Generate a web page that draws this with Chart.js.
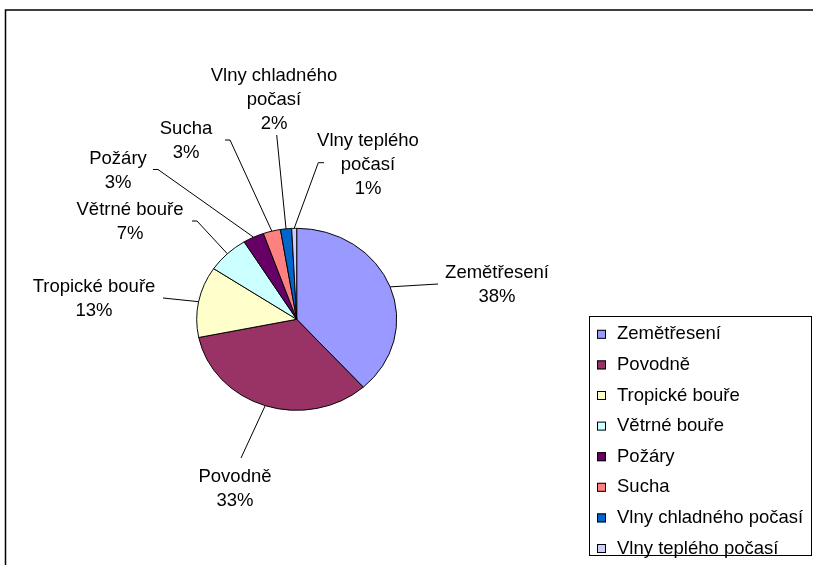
<!DOCTYPE html>
<html>
<head>
<meta charset="utf-8">
<script src="https://cdn.jsdelivr.net/npm/chart.js@4"></script>
<style>
  html, body { margin: 0; padding: 0; background: #fff; }
  #wrap { width: 813px; height: 565px; position: relative; }
</style>
</head>
<body>
<div id="wrap"><canvas id="pieChart"></canvas></div>
<script>
/* ================================================
   DATA
================================================ */
const categories = ['Zemětřesení', 'Povodně', 'Tropické bouře', 'Větrné bouře',
                    'Požáry', 'Sucha', 'Vlny chladného počasí', 'Vlny teplého počasí'];
const shares     = [38.4, 33.4, 12.6, 6.8, 3.4, 2.8, 1.8, 0.8];
const colors     = ['#9999FF', '#993366', '#FFFFCC', '#CCFFFF',
                    '#660066', '#FF8080', '#0066CC', '#CCCCFF'];

/* ================================================
   LAYOUT (label boxes + leader elbows, picture px)
================================================ */
const FONT      = '18.5px "Liberation Sans", Arial, sans-serif';
const SQUASH    = 0.91;   // the pie in the picture is slightly flattened
const LINE_H    = 24;
const labelSpots = [
  { x: 497, y: 272.5, leader: [[438, 284]] },
  { x: 235, y: 477,   leader: [[241, 458]] },
  { x: 94,  y: 286.5, leader: [[163, 298]] },
  { x: 130, y: 210,   leader: [[192, 221], [197, 221]] },
  { x: 118, y: 158.5, leader: [[153, 169.5], [158, 169.5]] },
  { x: 186, y: 129,   leader: [[225, 140], [230, 140]] },
  { x: 274, y: 76,    leader: [[276.7, 135]] },
  { x: 368, y: 140.5, leader: [[324, 162.7], [318.3, 162.7]] },
];

function wrapName(name) {
  if (name.length <= 14) return [name];
  const i = name.lastIndexOf(' ');
  return [name.slice(0, i), name.slice(i + 1)];
}

/* ================================================
   PLUGINS
================================================ */
const squashPlugin = {
  id: 'squash',
  beforeDatasetsDraw(chart) {
    const a = chart.getDatasetMeta(0).data[0];
    const ctx = chart.ctx;
    ctx.save();
    ctx.translate(a.x, a.y);
    ctx.scale(1, SQUASH);
    ctx.translate(-a.x, -a.y);
  },
  afterDatasetsDraw(chart) {
    chart.ctx.restore();
  },
};

const labelPlugin = {
  id: 'sliceLabels',
  afterDraw(chart) {
    const ctx   = chart.ctx;
    const arcs  = chart.getDatasetMeta(0).data;
    const total = shares.reduce((s, v) => s + v, 0);

    ctx.save();
    // outer frame (cropped at right / bottom)
    ctx.strokeStyle = '#000';
    ctx.lineWidth = 1.5;
    ctx.beginPath();
    ctx.moveTo(5.5, 565);
    ctx.lineTo(5.5, 10);
    ctx.lineTo(813, 10);
    ctx.stroke();

    ctx.font = FONT;
    ctx.fillStyle = '#000';
    ctx.textAlign = 'center';
    ctx.textBaseline = 'middle';
    ctx.lineWidth = 1;

    arcs.forEach((arc, i) => {
      const spot = labelSpots[i];
      const mid  = (arc.startAngle + arc.endAngle) / 2;
      const ex   = arc.x + Math.cos(mid) * arc.outerRadius;
      const ey   = arc.y + Math.sin(mid) * arc.outerRadius * SQUASH;

      ctx.beginPath();
      spot.leader.forEach(([px, py], k) => k === 0 ? ctx.moveTo(px, py) : ctx.lineTo(px, py));
      ctx.lineTo(ex, ey);
      ctx.stroke();

      const pct   = Math.round(shares[i] / total * 100) + '%';
      const lines = [...wrapName(categories[i]), pct];
      lines.forEach((t, k) => ctx.fillText(t, spot.x, spot.y + k * LINE_H));
    });

    // legend
    const box = { x: 589.5, y: 316.5, w: 222, h: 239 };
    ctx.strokeRect(box.x, box.y, box.w, box.h);
    ctx.textAlign = 'left';
    categories.forEach((name, i) => {
      const cy = 334.3 + i * 30.6;
      ctx.fillStyle = colors[i];
      ctx.fillRect(597, cy - 4.5, 9, 9);
      ctx.strokeStyle = '#000';
      ctx.strokeRect(597.5, cy - 4, 8, 8);
      ctx.fillStyle = '#000';
      ctx.fillText(name, 617, cy);
    });
    ctx.restore();
  },
};

/* ================================================
   CHART
================================================ */
new Chart(document.getElementById('pieChart'), {
  type: 'pie',
  data: {
    labels: categories,
    datasets: [{
      data: shares,
      backgroundColor: colors,
      borderColor: '#000',
      borderWidth: 1,
    }],
  },
  options: {
    responsive: true,
    maintainAspectRatio: false,
    animation: false,
    layout: { padding: { left: 196.2, top: 218.8, right: 415.8, bottom: 145.2 } },
    plugins: {
      legend: { display: false },
      tooltip: { enabled: false },
    },
  },
  plugins: [squashPlugin, labelPlugin],
});
</script>
</body>
</html>
